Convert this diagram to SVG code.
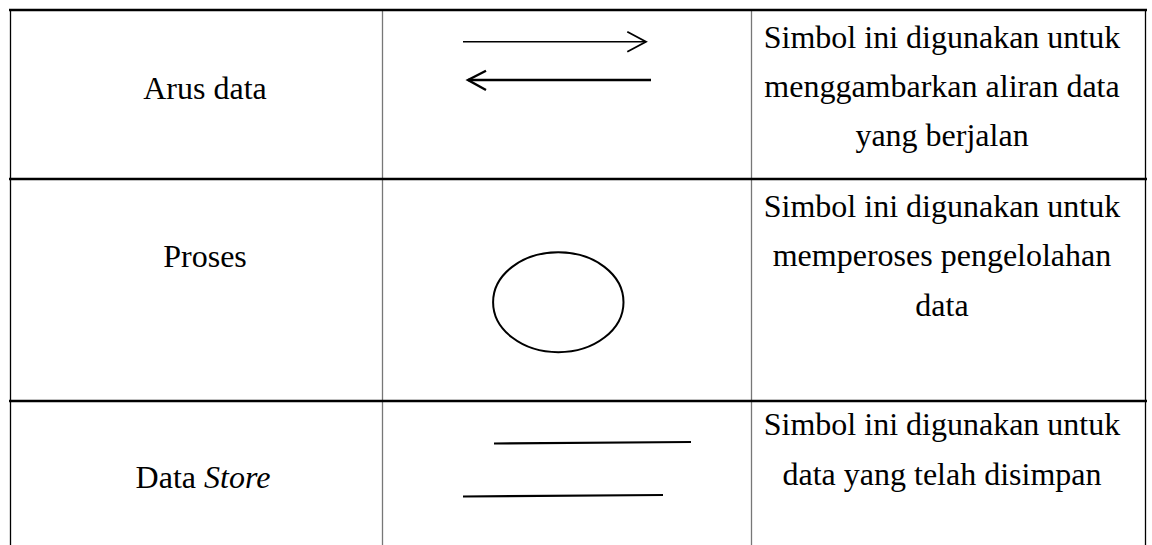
<svg xmlns="http://www.w3.org/2000/svg" width="1152" height="545" viewBox="0 0 1152 545">
<style>
.t{font-family:"Liberation Serif","Times New Roman",serif;font-size:32px;fill:#000;text-anchor:middle}
.hb{stroke:#000;stroke-width:2.6}
.vb{stroke:#000;stroke-width:1.3}
.vg{stroke:#777;stroke-width:1.3}
.sym{fill:none;stroke:#000;stroke-linecap:butt}
</style>
<rect width="1152" height="545" fill="#fff"/>
<g id="grid">
<line class="vb" x1="10.5" y1="9" x2="10.5" y2="545"/>
<line class="vg" x1="382.5" y1="9" x2="382.5" y2="545"/>
<line class="vg" x1="751.5" y1="9" x2="751.5" y2="545"/>
<line class="vb" x1="1145.5" y1="9" x2="1145.5" y2="545"/>
<line class="hb" x1="9" y1="10" x2="1147" y2="10"/>
<line class="hb" x1="9" y1="179" x2="1147" y2="179"/>
<line class="hb" x1="9" y1="401" x2="1147" y2="401"/>
</g>
<g id="row-arus">
<text class="t" x="205" y="99">Arus data</text>
<g class="sym">
<line x1="463" y1="41.7" x2="646" y2="41.7" stroke-width="1.5"/>
<polyline points="627.3,31.7 646,41.7 627.3,51.7" stroke-width="1.8"/>
<line x1="468" y1="80" x2="651" y2="80" stroke-width="2.4"/>
<polyline points="486,70.7 468,80 486,90" stroke-width="2.4"/>
</g>
<text class="t" x="942" y="48">Simbol ini digunakan untuk</text>
<text class="t" x="942" y="97">menggambarkan aliran data</text>
<text class="t" x="942" y="146">yang berjalan</text>
</g>
<g id="row-proses">
<text class="t" x="205" y="266.5">Proses</text>
<ellipse class="sym" cx="558.3" cy="302.2" rx="65.2" ry="50" stroke-width="2"/>
<text class="t" x="942" y="217">Simbol ini digunakan untuk</text>
<text class="t" x="942" y="266">memperoses pengelolahan</text>
<text class="t" x="942" y="316">data</text>
</g>
<g id="row-datastore">
<text class="t" x="203" y="488">Data <tspan font-style="italic">Store</tspan></text>
<g class="sym">
<line x1="494" y1="443.5" x2="691" y2="442" stroke-width="2.2"/>
<line x1="463" y1="496.5" x2="663" y2="495" stroke-width="2.2"/>
</g>
<text class="t" x="942" y="435">Simbol ini digunakan untuk</text>
<text class="t" x="942" y="485">data yang telah disimpan</text>
</g>
</svg>
